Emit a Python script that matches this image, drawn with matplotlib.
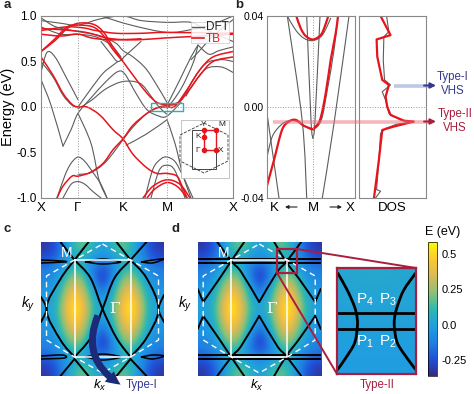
import matplotlib
matplotlib.use("Agg")
import matplotlib.pyplot as plt
from matplotlib.colors import LinearSegmentedColormap
from matplotlib.patches import Rectangle, FancyArrowPatch, PathPatch
from matplotlib.path import Path

plt.rcParams['font.family'] = ['Liberation Sans', 'DejaVu Sans']
plt.rcParams['mathtext.fontset'] = 'custom'
plt.rcParams['mathtext.rm'] = 'Liberation Sans'
plt.rcParams['mathtext.it'] = 'Liberation Sans:italic'

W, H = 474, 394
RED = "#e8141c"
GRAY = "#5c5c5c"
DARKRED = "#a91e3e"
NAVY = "#34388f"

parula = LinearSegmentedColormap.from_list("parula", [
    "#352a87", "#2050d8", "#1f80e0", "#209ee0", "#2fb8b0",
    "#8fc074", "#d9ba56", "#fcc82e", "#f9fb0e"])

# panel a: k in pixel-like units, X=0 G=37 K=82 M=126 X=192
a_ticks = [0, 37, 82, 126, 192]
a_labels = ["X", "Γ", "K", "M", "X"]

a_gray = [
    ([0, 10, 22], [.30, .02, -.43]),
    ([22, 30, 37, 50, 65, 77, 84, 95, 106, 118, 126, 140],
     [-.43, -.25, -.07, .10, .28, .39, .36, .15, -.03, -.10, -.10, .05]),
    ([37, 50, 62, 72, 77], [0, .20, .37, .46, .50]),
    ([60, 70, 77, 85, 100], [.72, .58, .50, .57, .72]),
    ([37, 50, 65, 82, 99, 110, 118, 126], [-.02, .07, .20, .28, .26, .12, 0, -.08]),
    ([0, 12, 22, 31, 37], [.50, .33, .13, .02, 0]),
    ([37, 50, 58, 66], [-.07, -.40, -.80, -1.0]),
    ([16, 24, 30, 37, 44, 52, 60, 66], [-1.0, -.75, -.62, -.55, -.60, -.72, -.85, -1.0]),
    ([22, 30, 37, 44, 52, 60], [-1.0, -.85, -.82, -.85, -.93, -1.0]),
    ([37, 50, 65, 82, 92, 106, 118, 126], [-.74, -.72, -.60, -.36, -.22, -.07, 0, .02]),
    ([85, 105, 126], [-.42, -.30, -.14]),
    ([126, 134, 142, 150], [-.14, -.40, -.75, -1.0]),
    ([104, 112, 120, 126, 134, 142, 152], [-1.0, -.68, -.57, -.55, -.60, -.76, -1.0]),
    ([110, 118, 126, 134, 144], [-1.0, -.70, -.64, -.70, -1.0]),
    ([126, 138, 150, 157], [.02, .28, .55, .68]),
    ([126, 140, 152, 157], [-.02, .20, .48, .68]),
    ([157, 168, 178, 192], [.68, .58, .62, .66]),
    ([150, 157, 172, 192], [.52, .60, .78, .96]),
    ([126, 140, 152, 165, 180, 192], [.03, .07, .30, .48, .52, .50]),
    ([145, 152, 165, 180, 192], [.12, .25, .42, .44, .38]),
    ([0, 20, 37, 60, 82, 100, 126, 150, 165, 192],
     [.95, .92, .90, .97, 1.0, .95, .93, .93, .85, .72]),
    ([0, 15, 37, 60, 75, 82, 92, 105, 118, 126],
     [.98, .88, .83, .78, .70, .62, .55, .42, .20, .05]),
    ([0, 20, 37, 55, 70, 80], [.88, .80, .80, .77, .68, .55]),
    ([60, 90, 126, 150, 170, 192], [1.0, .90, .82, .85, .90, 1.0]),
    ([0, 6, 14, 25, 37], [.38, .60, .55, .33, .08]),
]
a_red = [
    ([0, 12, 22, 31, 37, 46, 59, 72, 82, 92, 106, 116, 126, 136, 141, 146],
     [.55, .35, .15, .03, 0, 0, -.09, -.25, -.35, -.52, -.67, -.73, -.73, -.76, -.87, -1.0]),
    ([16, 22, 31, 37, 49, 62, 72, 82, 92, 106, 116, 126, 134, 146, 159, 172, 192],
     [-1.0, -.87, -.76, -.76, -.72, -.62, -.47, -.35, -.2, -.07, -.01, 0, .01, .19, .41, .55, .61]),
    ([126, 136, 147, 159, 172, 192], [.02, .04, .17, .35, .50, .55]),
    ([0, 14, 26, 37, 52, 62, 72, 82, 92, 106, 116, 126],
     [.61, .73, .86, .92, .91, .83, .66, .50, .35, .15, .05, .02]),
    ([0, 14, 26, 37, 52, 62, 72, 82], [.61, .75, .88, .90, .88, .79, .63, .50]),
    ([0, 20, 45, 65, 82, 100, 126, 160, 192], [.86, .85, .82, .76, .74, .74, .76, .78, .80]),
    ([0, 25, 42, 55, 75, 100, 126, 192], [.84, .88, .87, .84, .81, .81, .82, .81]),
    ([0, 20, 37, 50, 65, 82, 100], [.80, .78, .80, .76, .74, .74, .75]),
    ([102, 112, 126, 139, 149], [-1.0, -.87, -.80, -.85, -1.0]),
    ([106, 114, 126, 137, 146], [-1.0, -.90, -.83, -.88, -1.0]),
]

# panel b: k measured from M
b_gray = [
    ([-46.7, -40.7, -32, -24, -15.7, -7.3, 0, 8.3, 14.3, 21, 25],
     [-.0233, -.013, -.0079, -.006, -.0064, -.0086, -.0098, -.0057, .0075, .025, .04]),
    ([-25.7, -17.3, -9, 0, 9.3, 17.7], [.04, .0338, .0302, .0292, .0316, .039]),
    ([-25.7, -10.7, -6.3], [.04, -.0064, -.04]),
    ([-46.7, -34], [-.0006, -.04]),
    ([-6.3, -2, 0], [.04, -.006, -.0138]),
    ([0, 2, 7], [-.0138, -.006, .04]),
    ([9.3, 21, 36], [-.04, -.0072, .04]),
]
b_red = [
    ([-46.7, -39, -31, -24, -17, -9, 0], [-.0357, -.0233, -.0101, -.0064, -.0057, -.0083, -.0098]),
    ([0, 7, 12.7, 17.7, 22.7, 25], [-.0098, -.0057, .006, .0207, .0324, .04]),
    ([-16.7, -12.3, -7.3, 0, 7.7, 11.7, 15.3], [.04, .0346, .0312, .0297, .0316, .0353, .04]),
]

# DOS in fractions of the panel width
dos_red_e = [.04, .0316, .0297, .0221, .0119, .0097, .0045, .0001, -.0035, -.006, -.0064, -.0086, -.0101, -.0233, -.04]
dos_red = [.325, .473, .266, .276, .35, .448, .4, .424, .473, .67, .818, .522, .35, .3, .227]
dos_gray_e = [.04, .0331, .0309, .0206, .0119, .0097, .0067, .003, -.0028, -.0057, -.0066, -.0075, -.0094, -.0116, -.0233, -.0363, -.037, -.04]
dos_gray = [.414, .448, .374, .365, .384, .473, .35, .4, .448, .621, .818, .571, .4, .325, .3, .266, .325, .25]

# energy map E(kx, ky), top half of the rows; bottom half is the same
map_rows = [
    [-.32, -.25, -.08, .12, .20, .08, -.02, .08, .20, .12, -.08, -.25, -.32],
    [-.25, -.20, -.05, .05, .05, -.02, -.06, -.02, .05, .05, -.05, -.20, -.25],
    [-.14, -.10, .00, .12, .06, -.14, -.24, -.14, .06, .12, .00, -.10, -.14],
    [-.10, -.05, .10, .28, .18, -.12, -.32, -.12, .18, .28, .10, -.05, -.10],
    [-.05, .00, .20, .42, .28, .02, -.22, .02, .28, .42, .20, .00, -.05],
    [-.02, .03, .28, .54, .36, .08, -.05, .08, .36, .54, .28, .03, -.02],
    [.00, .05, .34, .58, .42, .12, .00, .12, .42, .58, .34, .05, .00],
]
map_grid = map_rows + map_rows[-2::-1]
inset_grid = [[.03, .04, .03], [.01, .01, .01], [.00, .00, .00], [-.01, -.01, -.01]]
vmin, vmax = -.364, .586
cbar_ticks = [.5, .25, 0, -.25]
cbar_labels = ["0.5", "0.25", "0.0", "-0.25"]

c_lines = [
    ([-28, -42, -56, -42, -28], [49, 30, 0, -31, -48]),
    ([-28, -12, 0, 14, 28], [49, 31, 0, -29, -48]),
    ([28, 12, 0, -12, -28], [49, 31, 0, -29, -48]),
    ([28, 44, 56, 44, 28], [49, 31, 0, -29, -48]),
    ([-61.5, -56, -61.5], [12, 0, -13]),
    ([61.5, 56, 61.5], [14, 0, -13]),
    ([-42, -28], [67, 49]),
    ([-28, -14], [49, 67]),
    ([14, 28], [67, 49]),
    ([28, 44], [49, 67]),
    ([-42, -28], [-67, -50]),
    ([-28, -14], [-50, -67]),
    ([14, 28], [-67, -50]),
    ([28, 44], [-50, -67]),
]
c_lens = [
    ([-61.5, -40, -38, -61.5], [49, 48, 47, 46]),
    ([-17, 0, 18, 0, -17], [47, 50, 47, 45, 47]),
    ([39, 50, 61.5, 50, 39], [47, 49, 50, 46, 47]),
    ([-61.5, -40, -38, -61.5], [-47, -46, -49, -50]),
    ([-17, 0, 18, 0, -17], [-48, -45, -48, -51, -48]),
    ([39, 50, 61.5, 50, 39], [-48, -46, -47, -50, -48]),
]
d_lines = [
    ([-61.5, -56], [20, 7]),
    ([-56, -40, -28, -15], [7, 30, 48, 67]),
    ([-42, -27, -18, 0], [67, 47, 37, 7]),
    ([0, 18, 27, 42], [7, 37, 47, 67]),
    ([15, 27, 40, 56], [67, 47, 30, 7]),
    ([56, 61.5], [7, 20]),
    ([-61.5, -56], [-20, -7]),
    ([-56, -40, -28, -15], [-7, -30, -48, -67]),
    ([-42, -27, -18, 0], [-67, -47, -37, -7]),
    ([0, 18, 27, 42], [-7, -37, -47, -67]),
    ([15, 27, 40, 56], [-67, -47, -30, -7]),
    ([56, 61.5], [-7, -20]),
    ([-61.5, 61.5], [50, 50]),
    ([-61.5, 61.5], [46, 46]),
    ([-61.5, 61.5], [-46, -46]),
    ([-61.5, 61.5], [-50, -50]),
]
hex_x = [0, 28, 56, 56, 28, 0, -28, -56, -56, -28, 0]
hex_y = [65, 49, 33, -31, -48, -64, -48, -31, 33, 49, 65]
rect_x = [-28, 28, 28, -28, -28]
rect_y = [49, 49, -48, -48, 49]

inset_h = [7.7, -7.7]
inset_left_u = [-38.7, -29.3, -22, -19.3, -19.3, -22, -31, -38.7]
inset_right_u = [39, 27.3, 20.7, 18, 18, 21, 30.7, 39]
inset_v = [47.7, 31, 14.3, 2.7, -7.3, -22.3, -37.3, -48.3]

fig = plt.figure(figsize=(W / 100, H / 100), dpi=100)


def ax_px(l, t, r, b):
    return fig.add_axes([l / W, 1 - b / H, (r - l) / W, (b - t) / H])


def curve(ax, x, y, color, lw):
    # bezier through the read points, so the bands do not look angular
    n = len(x)
    verts = [(x[0], y[0])]
    codes = [Path.MOVETO]
    for i in range(n - 1):
        p = max(i - 1, 0)
        q = min(i + 2, n - 1)
        verts.append((x[i] + (x[i + 1] - x[p]) / 6, y[i] + (y[i + 1] - y[p]) / 6))
        verts.append((x[i + 1] - (x[q] - x[i]) / 6, y[i + 1] - (y[q] - y[i]) / 6))
        verts.append((x[i + 1], y[i + 1]))
        codes += [Path.CURVE4] * 3
    ax.add_patch(PathPatch(Path(verts, codes), fill=False, ec=color, lw=lw, capstyle="round"))


# overlay in pixels for labels and decorations
ov = fig.add_axes([0, 0, 1, 1], zorder=10)
ov.set_xlim(0, W)
ov.set_ylim(H, 0)
ov.axis("off")
ov.patch.set_alpha(0)

# ---- a ----
ax = ax_px(41, 16, 233, 198)
for k in a_ticks[1:4]:
    ax.axvline(k, color="#999999", lw=.7, ls=":")
ax.axhline(0, color="#999999", lw=.7, ls=":")
for k, e in a_gray:
    curve(ax, k, e, GRAY, .8)
for k, e in a_red:
    curve(ax, k, e, RED, 1.1)
ax.set_xlim(0, 192)
ax.set_ylim(-1, 1)
ax.set_xticks(a_ticks, a_labels, fontsize=9.5)
ax.set_yticks([1, .5, 0, -.5, -1], ["1.0", "0.5", "0.0", "-0.5", "-1.0"], fontsize=8.5)
ax.tick_params(length=0, pad=3)
ax.set_ylabel("Energy (eV)", fontsize=10.5, labelpad=1)
for s in ax.spines.values():
    s.set_color("#888888")
    s.set_linewidth(.8)

ov.add_patch(Rectangle((151, 103), 32, 8, fill=False, ec="#1fb5b5", lw=1))
ov.add_patch(Rectangle((191, 22), 38, 21, fc="white", ec="#cccccc", lw=.6, alpha=.85))
ov.plot([192, 204], [27, 27], color=GRAY, lw=1)
ov.plot([192, 204], [38, 38], color=RED, lw=1.2)
ov.text(206, 27, "DFT", fontsize=8.5, va="center", color="#222222")
ov.text(206, 38.5, "TB", fontsize=8.5, va="center", color=RED)

# brillouin zone sketch
ov.add_patch(Rectangle((181, 120), 48, 58, fc="white", ec="#bbbbbb", lw=.6))
ov.plot([204, 228, 228, 204, 180, 180, 204], [123, 135, 161, 173, 161, 135, 123],
        color="#333333", lw=.6, ls="--")
ov.add_patch(Rectangle((192, 130), 24, 39, fill=False, ec="#444444", lw=.7))
bz_x = [204, 216, 216, 204, 204]
bz_y = [150, 150, 130, 130, 150]
ov.plot(bz_x, bz_y, color=RED, lw=1)
ov.plot([204, 216, 216, 204, 204], [150, 150, 130, 130, 137], "o", color=RED, ms=3)
for s, x, y in [("Y", 204, 124), ("M", 222, 124), ("K", 198, 137), ("Γ", 198, 150), ("X", 221, 150)]:
    ov.text(x, y, s, fontsize=6, ha="center", va="center", color="#222222")

# ---- b ----
bx = ax_px(266.5, 16, 355, 198)
bx.axvline(0, color="#999999", lw=.7, ls=":")
bx.axhline(0, color="#999999", lw=.7, ls=":")
for k, e in b_gray:
    curve(bx, k, e, GRAY, .8)
for k, e in b_red:
    curve(bx, k, e, RED, 1.6)
bx.set_xlim(-46.5, 42)
bx.set_ylim(-.04, .04)
bx.set_xticks([])
bx.set_yticks([.04, 0, -.04], ["0.04", "0.00", "-0.04"], fontsize=7.5)
bx.tick_params(length=0, pad=2)
for s in bx.spines.values():
    s.set_color("#888888")
    s.set_linewidth(.8)

dx = ax_px(358.7, 16, 426, 198)
dx.axhline(0, color="#999999", lw=.7, ls=":")
dx.plot(dos_gray, dos_gray_e, color=GRAY, lw=.8)
dx.plot(dos_red, dos_red_e, color=RED, lw=1.6)
dx.set_xlim(0, 1)
dx.set_ylim(-.04, .04)
dx.set_xticks([])
dx.set_yticks([])
for s in dx.spines.values():
    s.set_color("#888888")
    s.set_linewidth(.8)

ov.text(274, 208, "K", fontsize=9.5, ha="center", va="center")
ov.text(313, 208, "M", fontsize=9.5, ha="center", va="center")
ov.text(350, 208, "X", fontsize=9.5, ha="center", va="center")
ov.text(392, 208, "DOS", fontsize=9.5, ha="center", va="center")
ov.annotate("", xy=(285, 207), xytext=(297, 207),
            arrowprops=dict(arrowstyle="-|>", color="#222222", lw=.8, mutation_scale=5, shrinkA=0, shrinkB=0))
ov.annotate("", xy=(342, 207), xytext=(330, 207),
            arrowprops=dict(arrowstyle="-|>", color="#222222", lw=.8, mutation_scale=5, shrinkA=0, shrinkB=0))

ov.plot([273, 432], [121.5, 121.5], color="#e8707f", lw=2.6, alpha=.5, solid_capstyle="butt")
ov.plot([394, 432], [85.5, 85.5], color="#8090c8", lw=2.6, alpha=.5, solid_capstyle="butt")
ov.annotate("", xy=(436, 85.5), xytext=(424, 85.5),
            arrowprops=dict(arrowstyle="-|>", color=NAVY, lw=1.4, mutation_scale=8, shrinkA=0, shrinkB=0))
ov.annotate("", xy=(436, 121.5), xytext=(424, 121.5),
            arrowprops=dict(arrowstyle="-|>", color=DARKRED, lw=1.4, mutation_scale=8, shrinkA=0, shrinkB=0))
ov.text(452.5, 77, "Type-I", fontsize=8.3, color=NAVY, ha="center", va="center")
ov.text(452.5, 91, "VHS", fontsize=8.3, color=NAVY, ha="center", va="center")
ov.text(455, 114, "Type-II", fontsize=8.3, color=DARKRED, ha="center", va="center")
ov.text(455, 128, "VHS", fontsize=8.3, color=DARKRED, ha="center", va="center")

# ---- c, d ----
for box, lines, lens in [((41, 242, 164, 376), c_lines, c_lens),
                         ((197.7, 242, 320.7, 376), d_lines, [])]:
    m = ax_px(*box)
    im = m.imshow(map_grid, cmap=parula, vmin=vmin, vmax=vmax, interpolation="bicubic",
                  extent=[-61.5, 61.5, -67, 67], aspect="auto")
    for k, e in lines:
        curve(m, k, e, "black", 1.4)
    for k, e in lens:
        curve(m, k, e, "black", 1.1)
    m.plot(rect_x, rect_y, color="white", lw=1.1)
    m.plot(hex_x, hex_y, color="white", lw=1, ls=(0, (4, 3)))
    m.set_xlim(-61.5, 61.5)
    m.set_ylim(-67, 67)
    m.axis("off")
    ov.text(box[0] + 26, 253, "M", color="white", fontsize=10, ha="center", va="center")
    ov.text(box[0] + 73.5, 309, "Γ", color="white", fontsize=11, family="DejaVu Serif",
            ha="center", va="center")
    ov.text(box[0] - 13, 304, "$k_y$", fontsize=10, ha="center", va="center")
    ov.text(box[0] + 59, 385, "$k_x$", fontsize=9.5, ha="center", va="center")

ov.add_patch(FancyArrowPatch((99, 313), (123, 386), connectionstyle="arc3,rad=0.45",
                             arrowstyle="simple,head_width=10,head_length=10,tail_width=5",
                             color="#1c2a78", lw=0, mutation_scale=1))
ov.text(142, 385, "Type-I", fontsize=8.3, color=NAVY, ha="center", va="center")

for s, x, y in [("a", 7, 5), ("b", 239, 5), ("c", 7, 229), ("d", 176, 229)]:
    ov.text(x, y, s, fontsize=9.5, fontweight="bold", ha="center", va="center", color="#222222")

# zoomed saddle
ov.add_patch(Rectangle((277, 249), 20, 24, fill=False, ec=DARKRED, lw=1.6))
ov.plot([297, 416], [249, 268], color=DARKRED, lw=1.4)
ov.plot([277, 337], [273, 374], color=DARKRED, lw=1.4)

z = ax_px(337, 268, 416, 374)
z.imshow(inset_grid, cmap=parula, vmin=vmin, vmax=vmax, interpolation="bicubic",
         extent=[-39.5, 39.5, -53, 53], aspect="auto")
for v in inset_h:
    z.plot([-39.5, 39.5], [v, v], color="black", lw=2)
curve(z, inset_left_u, inset_v, "black", 2)
curve(z, inset_right_u, inset_v, "black", 2)
z.set_xlim(-39.5, 39.5)
z.set_ylim(-53, 53)
z.set_xticks([])
z.set_yticks([])
for s in z.spines.values():
    s.set_color(DARKRED)
    s.set_linewidth(1.6)
for s, x, y in [("P$_4$", 365, 300), ("P$_3$", 388, 300), ("P$_1$", 365, 342), ("P$_2$", 388, 342)]:
    ov.text(x, y, s, color="white", fontsize=11, ha="center", va="center")
ov.text(377, 385, "Type-II", fontsize=8.3, color=DARKRED, ha="center", va="center")

# colorbar
cax = ax_px(428, 242, 437, 376)
cb = fig.colorbar(im, cax=cax)
cb.set_ticks(cbar_ticks, labels=cbar_labels, fontsize=8)
cb.ax.tick_params(length=0, pad=3)
cb.outline.set_linewidth(.5)
ov.text(443, 232, "E (eV)", fontsize=9, ha="center", va="center")

fig.savefig("out.png", dpi=100)
